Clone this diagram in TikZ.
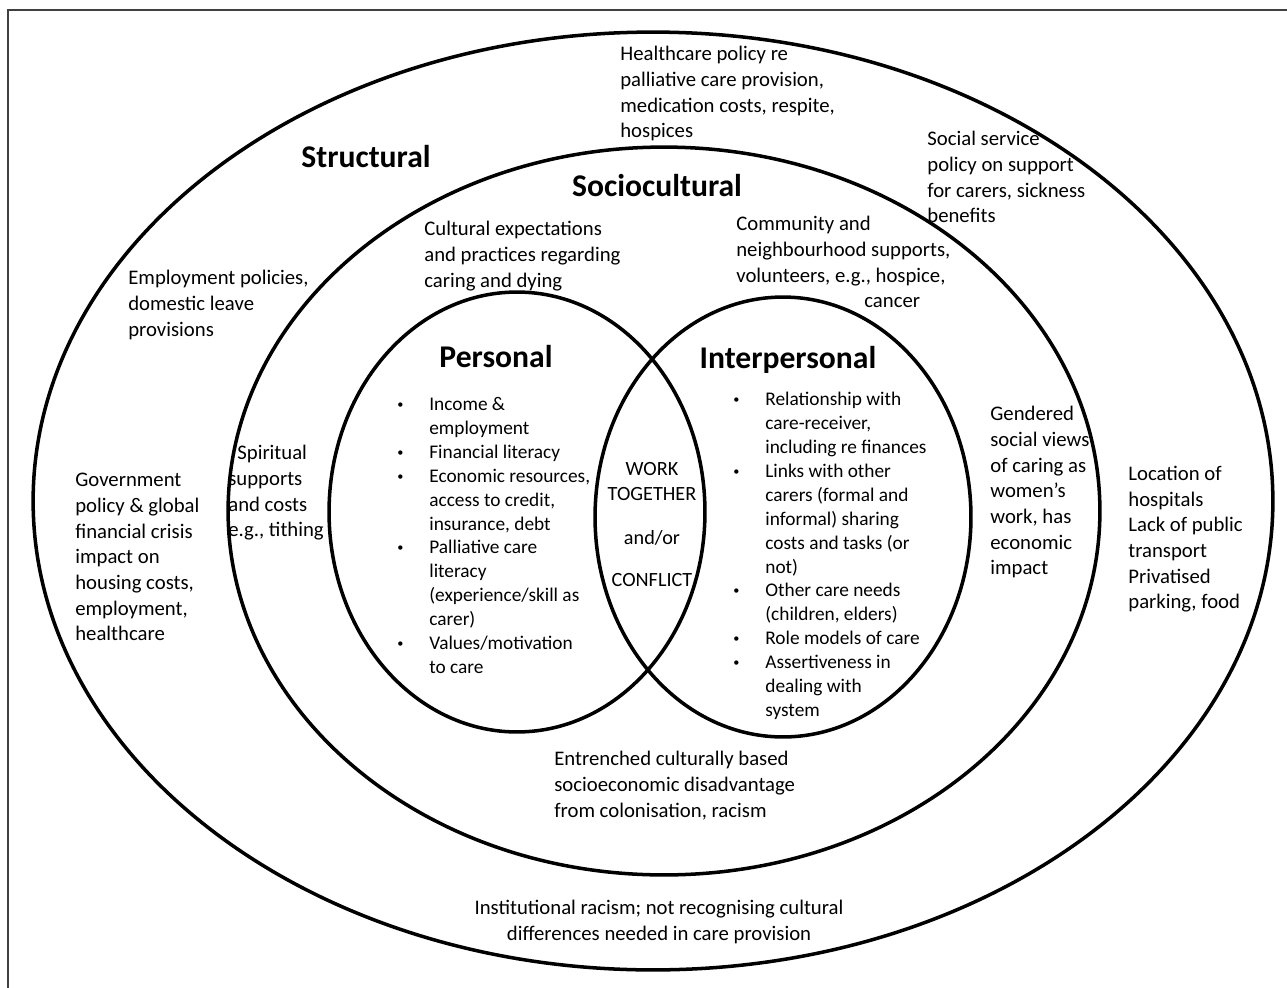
\documentclass[tikz,border=0pt]{standalone}
\usepackage{fontspec}
\setmainfont{Carlito}
\newcommand{\itm}{\llap{\makebox[0pt]{\raisebox{1.2pt}{\fontsize{7}{7}\selectfont\textbullet}}\hspace{0.58cm}}}
\begin{document}
\begin{tikzpicture}[x=0.02cm, y=-0.02cm,
    ring/.style={line width=2pt},
    txt/.style={anchor=north west, align=left, inner sep=0pt, execute at begin node=\strut, font=\fontsize{11.8}{14.6}\selectfont},
    lst/.style={txt, font=\fontsize{11}{13.6}\selectfont},
    ttl/.style={anchor=base, inner sep=0pt, font=\fontsize{18}{20}\selectfont\bfseries}]
\useasboundingbox (0,0) rectangle (1287,987);
\clip (0,0) rectangle (1287,987);
\draw[line width=0.8pt, black!75] (8,10) rectangle (1300,1000);
\draw[ring] (653,501) ellipse [x radius=12.4cm, y radius=9.38cm];
\draw[ring] (664,511) ellipse [x radius=8.72cm, y radius=7.28cm];
\draw[ring] (517,512) ellipse [x radius=3.76cm, y radius=4.4cm];
\draw[ring] (783,517) ellipse [x radius=3.76cm, y radius=4.4cm];

\node[ttl] (structural) at (366,167) {Structural};
\node[ttl] (sociocultural) at (657,196) {Sociocultural};
\node[ttl] (personal) at (496,367) {Personal};
\node[ttl] (interpersonal) at (788,368) {Interpersonal};

\node[txt] (healthcare) at (620,46) {Healthcare policy re\\palliative care provision,\\medication costs, respite,\\hospices};
\node[txt] (socialservice) at (927,131) {Social service\\policy on support\\for carers, sickness\\benefits};
\node[txt] (expectations) at (424,221) {Cultural expectations\\and practices regarding\\caring and dying};
\node[txt] (community) at (736,216) {Community and\\neighbourhood supports,\\volunteers, e.g., hospice,\\\hspace*{2.56cm}cancer};
\node[txt] (employment) at (128,270) {Employment policies,\\domestic leave\\provisions};
\node[txt] (spiritual) at (228,445) {\hspace*{0.18cm}Spiritual\\supports\\and costs\\e.g., tithing};
\node[txt] (government) at (75,473) {Government\\policy \& global\\financial crisis\\impact on\\housing costs,\\employment,\\healthcare};
\node[txt] (gendered) at (990,406) {Gendered\\social views\\of caring as\\women’s\\work, has\\economic\\impact};
\node[txt] (location) at (1128,466) {Location of\\hospitals\\Lack of public\\transport\\Privatised\\parking, food};
\node[txt] (entrenched) at (554,751) {Entrenched culturally based\\socioeconomic disadvantage\\from colonisation, racism};
\node[txt, anchor=north, align=center] (institutional) at (659,900) {Institutional racism; not recognising cultural\\differences needed in care provision};

\node[lst] (personallist) at (429,397) {\itm Income \&\\employment\\\itm Financial literacy\\\itm Economic resources,\\access to credit,\\insurance, debt\\\itm Palliative care\\literacy\\(experience/skill as\\carer)\\\itm Values/motivation\\to care};
\node[lst] (interpersonallist) at (765,392) {\itm Relationship with\\care-receiver,\\including re finances\\\itm Links with other\\carers (formal and\\informal) sharing\\costs and tasks (or\\not)\\\itm Other care needs\\(children, elders)\\\itm Role models of care\\\itm Assertiveness in\\dealing with\\system};
\node[txt, anchor=north, align=center, font=\fontsize{11.5}{14.2}\selectfont] (overlap) at (652,462) {WORK\\TOGETHER\\[0.38cm]and/or\\[0.34cm]CONFLICT};
\end{tikzpicture}
\end{document}
